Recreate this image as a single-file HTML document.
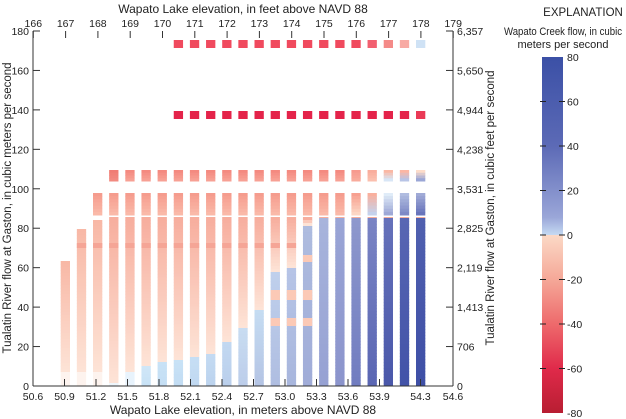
<!DOCTYPE html>
<html><head><meta charset="utf-8">
<style>
html,body{margin:0;padding:0;background:#fff;}
svg{display:block;font-family:"Liberation Sans",sans-serif;}
</style></head>
<body>
<svg id="s" width="626" height="419" xmlns="http://www.w3.org/2000/svg">
<defs>
<linearGradient id="cb" x1="0" y1="0" x2="0" y2="1">
<stop offset="0" stop-color="#3b50a6"/>
<stop offset="0.25" stop-color="#5c6ab6"/>
<stop offset="0.45" stop-color="#9aa6d8"/>
<stop offset="0.5" stop-color="#c5daf2"/>
<stop offset="0.5" stop-color="#fbd9c6"/>
<stop offset="0.625" stop-color="#f5a898"/>
<stop offset="0.75" stop-color="#ee6a6c"/>
<stop offset="0.875" stop-color="#e02a4a"/>
<stop offset="1" stop-color="#b81e32"/>
</linearGradient>
</defs>
<g id="bars"></g>
<g stroke="#333" stroke-width="1" fill="none">
<line x1="33" y1="31" x2="33" y2="386"/>
<line x1="33" y1="386" x2="453" y2="386"/>
<line x1="453" y1="31" x2="453" y2="386"/>
</g>
<g id="axes" font-size="10.5" fill="#222"></g>
<text x="243" y="13" font-size="12" text-anchor="middle" fill="#222">Wapato Lake elevation, in feet above NAVD 88</text>
<text x="243" y="414" font-size="12" text-anchor="middle" fill="#222">Wapato Lake elevation, in meters above NAVD 88</text>
<text transform="translate(11,208) rotate(-90)" font-size="11.5" text-anchor="middle" fill="#222">Tualatin River flow at Gaston, in cubic meters per second</text>
<text transform="translate(494,208) rotate(-90)" font-size="11.5" text-anchor="middle" fill="#222">Tualatin River flow at Gaston, in cubic feet per second</text>
<text x="583" y="16" font-size="11.5" text-anchor="middle" fill="#222">EXPLANATION</text>
<text x="504" y="35" font-size="11" textLength="118" lengthAdjust="spacingAndGlyphs" fill="#222">Wapato Creek flow, in cubic</text>
<text x="563" y="48" font-size="11" text-anchor="middle" fill="#222">meters per second</text>
<rect x="542" y="57" width="21" height="356" fill="url(#cb)"/>
<g id="cbt" font-size="10.5" fill="#222"></g>
</svg>
<script>
(function(){
var NS="http://www.w3.org/2000/svg";
function el(p,t,a,txt){var e=document.createElementNS(NS,t);for(var k in a)e.setAttribute(k,a[k]);if(txt!==undefined)e.textContent=txt;p.appendChild(e);return e;}
var ax=document.getElementById('axes');
function Y(v){return 386-v*355/180;}
for(var v=0;v<=180;v+=20){var y=Y(v);el(ax,'line',{x1:33,y1:y,x2:40,y2:y,stroke:'#333'});el(ax,'text',{x:29,y:y+4,'text-anchor':'end'},String(v));}
var cfs=["0","706","1,413","2,119","2,825","3,531","4,238","4,944","5,650","6,357"];
for(var i=0;i<10;i++){var y=Y(i*20);el(ax,'line',{x1:446,y1:y,x2:453,y2:y,stroke:'#333'});el(ax,'text',{x:457,y:y+4},cfs[i]);}
for(var f=166;f<=179;f++){var x=33.3+(f-166)*32.3;el(ax,'line',{x1:x,y1:31,x2:x,y2:38,stroke:'#333'});el(ax,'text',{x:x,y:27,'text-anchor':'middle'},String(f));}
var bl=["50.6","50.9","51.2","51.5","51.8","52.1","52.4","52.7","53.0","53.3","53.6","53.9","54.3","54.6"];
for(var i=0;i<bl.length;i++){var m=parseFloat(bl[i]);var x=33+(m-50.6)*105;if(i==12)x=33+3.7*105-1;el(ax,'line',{x1:x,y1:379,x2:x,y2:386,stroke:'#333'});el(ax,'text',{x:x,y:400,'text-anchor':'middle'},bl[i]);}
var cbt=document.getElementById('cbt');
var cv=[80,60,40,20,0,-20,-40,-60,-80];
for(var i=0;i<9;i++){var y=57+i*44.5;if(i>0&&i<8){el(cbt,'line',{x1:540,y1:y,x2:546,y2:y,stroke:'#222'});el(cbt,'line',{x1:559,y1:y,x2:565,y2:y,stroke:'#222'});}
el(cbt,'text',{x:567,y:y+4},String(cv[i]));}
var g=document.getElementById('bars');
function hx(h){return [parseInt(h.substr(1,2),16),parseInt(h.substr(3,2),16),parseInt(h.substr(5,2),16)];}
function mix(a,b,t){a=hx(a);b=hx(b);var r=[];for(var i=0;i<3;i++)r.push(Math.round(a[i]+(b[i]-a[i])*t));return 'rgb('+r.join(',')+')';}
function grad(x,y0,y1,c0,c1,w){var n=Math.max(1,Math.round((y1-y0)/3));var h=(y1-y0)/n;for(var i=0;i<n;i++){el(g,'rect',{x:x,y:y0+i*h,width:w,height:h+0.5,fill:mix(c0,c1,n>1?i/(n-1):0)});}}
var W=9.3;
function X(c){return 60.7+c*16.15;}
var tops=[261,229,220,217];
var blueStart=[999,999,999,383,372,366,362,360,357,354,342,328,310,272,268,226,218,218,218,218,218,218,218];
var blue=[["#eef6fc","#eef6fc"],["#eef6fc","#eef6fc"],["#eef6fc","#eef6fc"],["#eef6fc","#eef6fc"],["#e8f3fc","#e8f3fc"],
["#cfe6f7","#c8e2f6"],["#c8e2f6","#c4def4"],["#c8e2f6","#c2dcf3"],["#c6def4","#c0d8f1"],["#c3daf2","#bcd3ee"],["#c2d8f1","#bacfec"],
["#c8dcf1","#bccdea"],["#c5dcf2","#b4c4e4"],["#bfd0ec","#afbde1"],["#b6c4e6","#a8b6dd"],["#aebcdf","#a0acd8"],
["#a8b4dc","#96a1d3"],["#9aa5d6","#8b94cc"],["#8e98cd","#707cc0"],["#7a84c4","#5a66b3"],["#6571ba","#4a58aa"],["#5866b3","#4253a8"],["#5060af","#3e4fa6"]];
for(var c=0;c<23;c++){
 var x=X(c);
 var tp=c<3?tops[c]:217;
 var bs=Math.min(blueStart[c],386);
 if(bs>tp){
  var bot=c<3?372:bs;
  grad(x,tp,bot,c<3?"#f8b8a6":"#f7ae9e","#fde3d6",W);
  if(c<3) el(g,'rect',{x:x,y:372,width:W,height:14,fill:"#fdf3ee"});
  if(tp<243&&bs>248) el(g,'rect',{x:x,y:243,width:W,height:5,fill:"#f5a596"});
 }
 if(bs<386) grad(x,bs,386,blue[c][0],blue[c][1],W);
 if(c>=13&&c<=15){var pp=[[255,262],[290,300],[318,326]];for(var k=0;k<pp.length;k++){if(pp[k][0]>bs)el(g,'rect',{x:x,y:pp[k][0],width:W,height:pp[k][1]-pp[k][0],fill:"#fbc9b6"});}}
 if(c>=2){
  var r0,r1;
  if(c<=17){r0="#f59c8e";r1="#fab9a8";}
  else if(c==18){r0="#f7a090";r1="#fcd6c4";}
  else if(c==19){r0="#f9b09e";r1="#c5d2ec";}
  else if(c==20){r0="#e0ecf8";r1="#9ea8d6";}
  else if(c==21){r0="#b0bce0";r1="#7e89c6";}
  else {r0="#a0aad6";r1="#6874bb";}
  grad(x,193,215,r0,r1,W);
 }
 if(c>=3){
  var q0="#f48a80",q1="#f7a094";
  if(c==3){q0="#f07c74";q1="#f28a80";}
  if(c==18){q0="#f79a8e";q1="#f8ab9c";}
  if(c==19){q0="#f9ad9c";q1="#fbbfae";}
  if(c==20){q0="#fab8a4";q1="#d8e6f6";}
  if(c==21){q0="#fbb6a4";q1="#b8c4e6";}
  if(c==22){q0="#fddcca";q1="#9aa6d6";}
  grad(x,170,181,q0,q1,W);
 }
 if(c>=7){
  el(g,'rect',{x:x,y:111,width:W,height:8,fill:c==22?"#ea3a56":"#e4234a"});
  var tc=c<19?"#f04a5e":(c==19?"#f26070":(c==20?"#f48a88":(c==21?"#f8aaa4":"#cfe2f5")));
  el(g,'rect',{x:x,y:40,width:W,height:8,fill:tc});
 }
}
})();
</script>
</body></html>
